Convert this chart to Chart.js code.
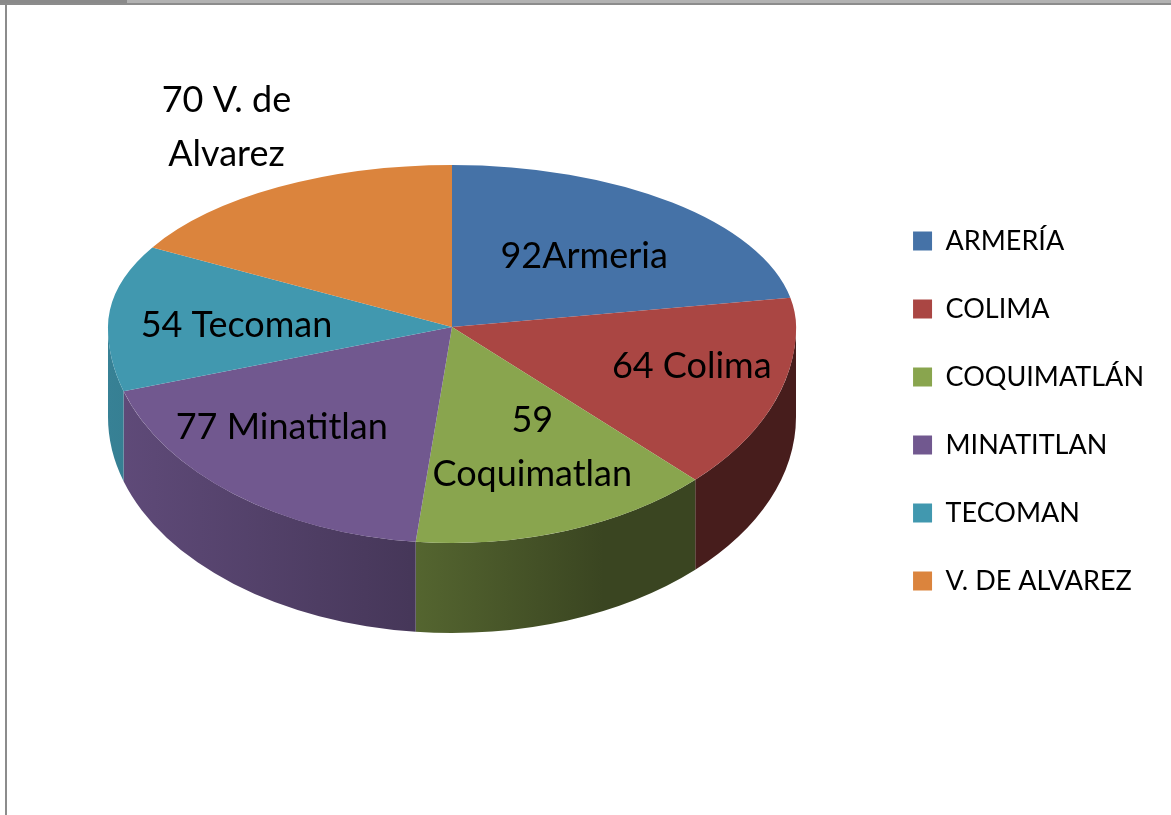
<!DOCTYPE html>
<html>
<head>
<meta charset="utf-8">
<title>Alumnos por municipio</title>
<script src="https://cdn.jsdelivr.net/npm/chart.js@4.4.1/dist/chart.umd.min.js"></script>
<style>
  body { margin: 0; background: #fff; }
  #marco { position: relative; width: 1171px; height: 815px; overflow: hidden; }
  .sup { position: absolute; left: 0; top: 0; width: 1171px; height: 3px; background: #b2b2b2; }
  .sup2 { position: absolute; left: 0; top: 3px; width: 1171px; height: 2px; background: #8c8c8c; }
  .pestana { position: absolute; left: 0; top: 0; width: 127px; height: 3px; background: #8a8a8a; }
  .izq { position: absolute; left: 5px; top: 3px; width: 2px; height: 812px; background: #8c8c8c; }
  canvas { position: absolute; left: 0; top: 0; }
</style>
</head>
<body>
<div id="marco">
  <canvas id="graficoPastel" width="1171" height="815"></canvas>
  <div class="sup"></div><div class="sup2"></div><div class="pestana"></div><div class="izq"></div>
</div>
<script>
// Datos
const municipios = ['ARMERÍA', 'COLIMA', 'COQUIMATLÁN', 'MINATITLAN', 'TECOMAN', 'V. DE ALVAREZ'];
const valores = [92, 64, 59, 77, 54, 70];
const etiquetas = [['92Armeria'], ['64 Colima'], ['59', 'Coquimatlan'], ['77 Minatitlan'], ['54 Tecoman'], ['70 V. de', 'Alvarez']];
const colores = ['#4572A7', '#AA4643', '#89A54E', '#71588F', '#4198AF', '#DB843D'];

// Geometría del pastel en perspectiva (mitad de atrás más chata que la de adelante)
const CX = 452, CY = 327, RX = 344, RY_FONDO = 162, RY_FRENTE = 216, GROSOR = 90;

function sombra(hex, f) {
    const n = parseInt(hex.slice(1), 16);
    const r = Math.round(((n >> 16) & 255) * f);
    const g = Math.round(((n >> 8) & 255) * f);
    const b = Math.round((n & 255) * f);
    return 'rgb(' + r + ',' + g + ',' + b + ')';
}

// Dibuja las paredes y la cara superior a partir de los arcos de Chart.js
const pastel3d = {
    id: 'pastel3d',
    beforeDatasetsDraw(chart) {
        const ctx = chart.ctx;
        const arcos = chart.getDatasetMeta(0).data;

        // paredes laterales (solo la mitad de adelante se ve)
        arcos.forEach(function (arco) {
            const a1 = Math.max(arco.startAngle, 0);
            const a2 = Math.min(arco.endAngle, Math.PI);
            if (a2 <= a1) return;
            const base = arco.options.backgroundColor;
            const grad = ctx.createLinearGradient(CX - RX, 0, CX + RX, 0);
            grad.addColorStop(0, sombra(base, 0.85));
            grad.addColorStop(0.44, sombra(base, 0.62));
            grad.addColorStop(0.72, sombra(base, 0.42));
            grad.addColorStop(1, sombra(base, 0.42));
            ctx.save();
            ctx.beginPath();
            ctx.ellipse(CX, CY, RX, RY_FRENTE, 0, a1, a2);
            ctx.ellipse(CX, CY + GROSOR, RX, RY_FRENTE, 0, a2, a1, true);
            ctx.closePath();
            ctx.fillStyle = grad;
            ctx.fill();
            ctx.restore();
        });

        // cara superior: se dibujan los arcos dos veces, cada mitad con su escala
        const r = arcos[0].outerRadius, x0 = arcos[0].x, y0 = arcos[0].y;
        const mitades = [[0, CY, RY_FONDO], [CY, chart.height, RY_FRENTE]];
        mitades.forEach(function (m) {
            ctx.save();
            ctx.beginPath();
            ctx.rect(0, m[0], chart.width, m[1] - m[0]);
            ctx.clip();
            ctx.translate(CX, CY);
            ctx.scale(RX / r, m[2] / r);
            ctx.translate(-x0, -y0);
            arcos.forEach(function (arco) { arco.draw(ctx); });
            ctx.restore();
        });
        return false;
    }
};

// Etiquetas de datos sobre cada rebanada
const rotulos = {
    id: 'rotulos',
    afterDraw(chart, args, opts) {
        const ctx = chart.ctx;
        ctx.save();
        ctx.font = '36px Lato';
        ctx.fillStyle = '#000';
        ctx.textAlign = 'center';
        ctx.textBaseline = 'middle';
        chart.getDatasetMeta(0).data.forEach(function (arco, i) {
            const medio = (arco.startAngle + arco.endAngle) / 2;
            const f = opts.radio[i];
            const s = Math.sin(medio);
            const x = CX + RX * f[0] * Math.cos(medio);
            const y = CY + (s < 0 ? RY_FONDO : RY_FRENTE) * f[1] * s;
            const lineas = etiquetas[i];
            lineas.forEach(function (t, k) {
                ctx.fillText(t, x, y + (k - (lineas.length - 1) / 2) * 54);
            });
        });
        ctx.restore();
    }
};

const config = {
    type: 'pie',
    data: {
        labels: municipios,
        datasets: [{
            data: valores,
            backgroundColor: colores,
            borderWidth: 0,
            hoverOffset: 0
        }]
    },
    options: {
        responsive: false,
        animation: false,
        layout: { padding: { top: 7, right: 17 } },
        plugins: {
            legend: {
                position: 'right',
                labels: {
                    font: { family: 'Lato', size: 27 },
                    color: '#000',
                    boxWidth: 19,
                    boxHeight: 19,
                    padding: 41
                }
            },
            tooltip: { enabled: false },
            // distancia relativa al centro (horizontal, vertical) de cada rótulo
            rotulos: { radio: [[0.6, 0.57], [0.73, 0.61], [0.7, 0.59], [0.78, 0.6], [0.63, 0.12], [1.3, 1.43]] }
        }
    },
    plugins: [pastel3d, rotulos]
};

let grafico = new Chart(document.getElementById('graficoPastel'), config);
</script>
</body>
</html>
